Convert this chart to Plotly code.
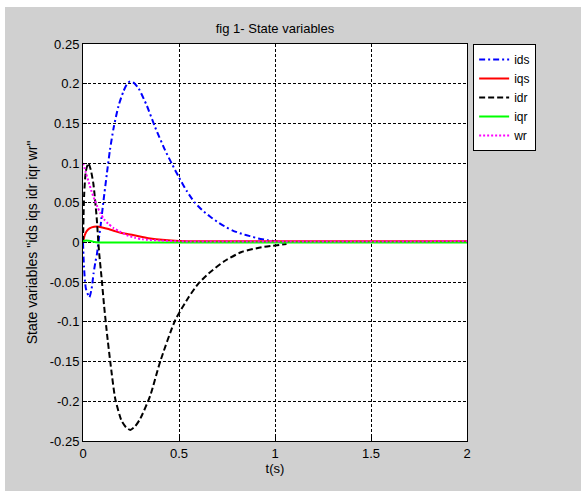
import plotly.graph_objects as go

# ---- state variable traces (time in s) ----
t_ids = [0, 0.005, 0.015, 0.033, 0.045, 0.055, 0.065, 0.073, 0.08, 0.092, 0.107,
         0.125, 0.14, 0.16, 0.185, 0.21, 0.23, 0.246, 0.265, 0.29, 0.333, 0.376,
         0.428, 0.463, 0.5, 0.54, 0.58, 0.62, 0.66, 0.7, 0.74, 0.78, 0.826, 0.87,
         0.914, 0.96, 1.0, 1.04]
ids = [0, -0.03, -0.058, -0.069, -0.058, -0.039, -0.024, -0.014, 0.0, 0.022, 0.053,
       0.088, 0.116, 0.145, 0.172, 0.19, 0.2, 0.203, 0.201, 0.194, 0.172, 0.145,
       0.116, 0.099, 0.082, 0.065, 0.051, 0.041, 0.033, 0.026, 0.02, 0.015, 0.011,
       0.008, 0.005, 0.003, 0.0015, 0.0]

t_iqs = [0, 0.01, 0.025, 0.045, 0.073, 0.1, 0.133, 0.17, 0.2, 0.236, 0.272, 0.341,
         0.428, 0.5, 0.6, 0.8, 1.2, 2.0]
iqs = [0, 0.01, 0.016, 0.019, 0.02, 0.019, 0.017, 0.014, 0.012, 0.0105, 0.0088,
       0.0054, 0.003, 0.002, 0.0015, 0.0015, 0.0015, 0.0015]

t_idr = [0, 0.006, 0.015, 0.028, 0.04, 0.054, 0.071, 0.083, 0.097, 0.11, 0.125,
         0.142, 0.168, 0.2, 0.225, 0.246, 0.27, 0.298, 0.35, 0.402, 0.48, 0.55,
         0.6, 0.654, 0.74, 0.826, 0.93, 1.06]
idr = [0, 0.06, 0.09, 0.1, 0.092, 0.074, 0.032, -0.01, -0.045, -0.08, -0.115,
       -0.15, -0.197, -0.224, -0.233, -0.236, -0.232, -0.222, -0.193, -0.15, -0.098,
       -0.069, -0.052, -0.039, -0.023, -0.012, -0.006, -0.002]

t_iqr = [0, 0.005, 0.04, 0.06, 0.08, 2.0]
iqr = [0, 0.002, 0.002, 0.0005, 0, 0]

t_wr = [0, 0.015, 0.03, 0.045, 0.06, 0.075, 0.09, 0.11, 0.13, 0.16, 0.19, 0.23,
        0.27, 0.31, 0.4, 0.5, 2.0]
wr = [0.1, 0.088, 0.076, 0.064, 0.054, 0.045, 0.037, 0.029, 0.024, 0.018, 0.014,
      0.009, 0.006, 0.004, 0.0025, 0.0015, 0.0015]

x_ticks = [0, 0.5, 1, 1.5, 2]
x_tick_text = ["0", "0.5", "1", "1.5", "2"]
y_ticks = [-0.25, -0.2, -0.15, -0.1, -0.05, 0, 0.05, 0.1, 0.15, 0.2, 0.25]
y_tick_text = ["-0.25", "-0.2", "-0.15", "-0.1", "-0.05", "0", "0.05", "0.1",
               "0.15", "0.2", "0.25"]

FONT = "Liberation Sans, Arial, sans-serif"
GRAY = "#d0d0d0"

fig = go.Figure()
series = [
    ("ids", t_ids, ids, "#0000ff", "6px,3px,2px,3px"),
    ("iqs", t_iqs, iqs, "#ff0000", "solid"),
    ("idr", t_idr, idr, "#000000", "6px,3px"),
    ("iqr", t_iqr, iqr, "#00ff00", "solid"),
    ("wr", t_wr, wr, "#ff00ff", "2px,2px"),
]
for name, tx, ty, color, dash in series:
    fig.add_trace(go.Scatter(
        x=tx, y=ty, name=name, mode="lines",
        line=dict(color=color, width=2, dash=dash, shape="spline", smoothing=0.6),
    ))

axis_common = dict(
    showline=True, linecolor="black", linewidth=1, mirror=True,
    ticks="inside", ticklen=4, tickcolor="black",
    showgrid=True, gridcolor="black", gridwidth=1, griddash="3px,2px",
    zeroline=False, tickfont=dict(family=FONT, size=13, color="black"),
)

fig.update_layout(
    width=581, height=491,
    margin=dict(l=83, r=114, t=44, b=50),
    paper_bgcolor=GRAY, plot_bgcolor="white",
    title=dict(text="fig 1- State variables", x=(83 + 467) / 2 / 581, xanchor="center",
               y=1 - 28 / 491, yanchor="middle",
               font=dict(family=FONT, size=13, color="black")),
    xaxis=dict(range=[0, 2], tickvals=x_ticks, ticktext=x_tick_text,
               title=dict(text="t(s)", font=dict(family=FONT, size=13, color="black"),
                          standoff=4),
               **axis_common),
    yaxis=dict(range=[-0.25, 0.25], tickvals=y_ticks, ticktext=y_tick_text,
               title=dict(text='State variables "ids iqs idr iqr wr"',
                          font=dict(family=FONT, size=14, color="black"),
                          standoff=8),
               **axis_common),
    legend=dict(x=1.016, xanchor="left", y=1, yanchor="top",
                bgcolor="white", bordercolor="black", borderwidth=1,
                font=dict(family=FONT, size=12, color="black"),
                tracegroupgap=0, itemwidth=30),
    showlegend=True,
    shapes=[
        # thin white frame strips along the top and left edges of the figure
        dict(type="rect", xref="paper", yref="paper", x0=-83 / 384, x1=-78 / 384,
             y0=-50 / 397, y1=441 / 397, fillcolor="white", line_width=0, layer="below"),
        dict(type="rect", xref="paper", yref="paper", x0=-83 / 384, x1=498 / 384,
             y0=434 / 397, y1=441 / 397, fillcolor="white", line_width=0, layer="below"),
    ],
)

fig.write_html("out.html")
